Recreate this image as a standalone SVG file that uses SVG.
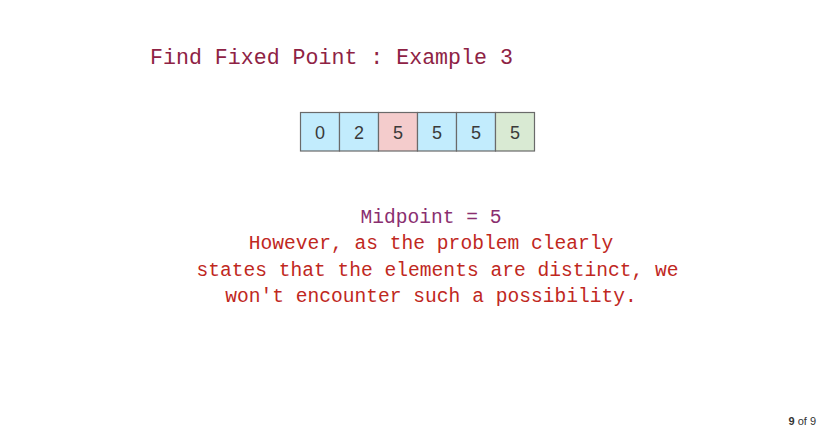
<svg xmlns="http://www.w3.org/2000/svg" width="822" height="430" viewBox="0 0 822 430">
<style>
.mono{font-family:"Liberation Mono","Courier New",monospace}
.cell rect{stroke:#6a6a6a;stroke-width:1.2}
.cell text{font-family:"Liberation Sans",Arial,sans-serif;font-size:18px;fill:#3a3a3a;text-anchor:middle}
.blue{fill:#c2ecfd}
.pink{fill:#f4cccc}
.green{fill:#d9ead3}
.body{font-size:19.6px;text-anchor:middle}
</style>
<rect width="822" height="430" fill="#fff"/>
<g id="title"><text class="mono" x="150" y="64" font-size="21.6" fill="#8e2244">Find Fixed Point : Example 3</text></g>
<g id="array">
<g id="c0" class="cell"><rect class="blue" x="300.5" y="112.5" width="39" height="38.5"/><text x="320" y="138.5">0</text></g>
<g id="c1" class="cell"><rect class="blue" x="339.5" y="112.5" width="39" height="38.5"/><text x="359" y="138.5">2</text></g>
<g id="c2" class="cell"><rect class="pink" x="378.5" y="112.5" width="39" height="38.5"/><text x="398" y="138.5">5</text></g>
<g id="c3" class="cell"><rect class="blue" x="417.5" y="112.5" width="39" height="38.5"/><text x="437" y="138.5">5</text></g>
<g id="c4" class="cell"><rect class="blue" x="456.5" y="112.5" width="39" height="38.5"/><text x="476" y="138.5">5</text></g>
<g id="c5" class="cell"><rect class="green" x="495.5" y="112.5" width="39" height="38.5"/><text x="515" y="138.5">5</text></g>
</g>
<g id="explanation" class="mono body">
<text x="431" y="222.5" fill="#8a2f70">Midpoint = 5</text>
<text x="431" y="249" fill="#c0281e">However, as the problem clearly</text>
<text x="437.5" y="275.5" fill="#c0281e">states that the elements are distinct, we</text>
<text x="431" y="302" fill="#c0281e">won't encounter such a possibility.</text>
</g>
<g id="connectors"></g>
<text x="816" y="425" font-family="Liberation Sans,Arial,sans-serif" font-size="11" fill="#333" text-anchor="end"><tspan font-weight="bold">9</tspan> of 9</text>
</svg>
